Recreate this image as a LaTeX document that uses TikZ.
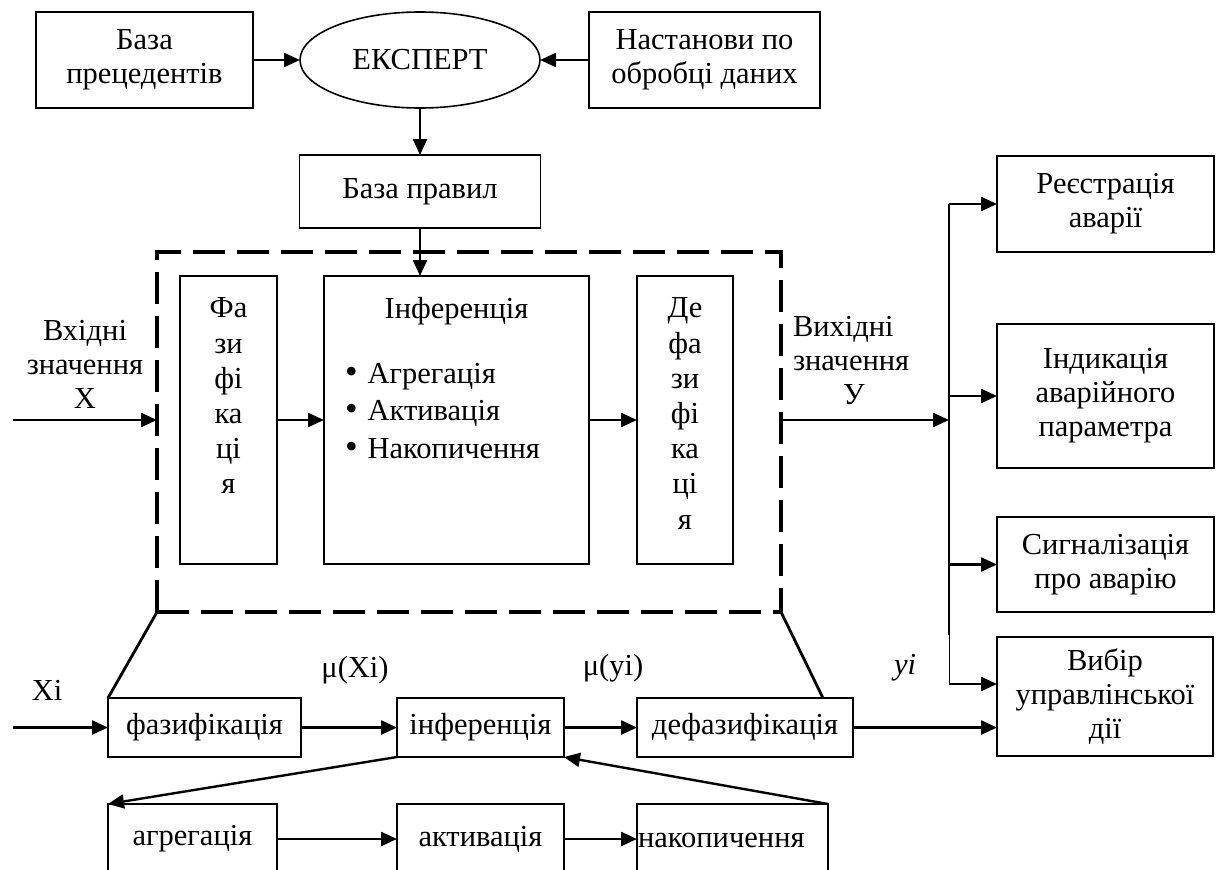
\documentclass[tikz,border=0pt]{standalone}
\usepackage{fontspec}
\setmainfont{Liberation Serif}
\usetikzlibrary{arrows.meta,shapes.geometric}
\begin{document}
\begin{tikzpicture}[x=1pt,y=-1pt,
  every node/.style={font=\fontsize{30.5}{34}\selectfont, inner sep=0pt, outer sep=0pt},
  box/.style={draw, line width=1.6pt, align=center},
  txt/.style={align=center},
  arr/.style={line width=2.4pt, -{Triangle[length=16pt,width=14pt]}},
  ln/.style={line width=2.8pt},
  dbox/.style={draw, line width=3.4pt, dash pattern=on 32pt off 12pt}
]
\useasboundingbox (0,0) rectangle (1221,870);
\clip (0,0) rectangle (1221,870);
% top row
\node[box, minimum width=217pt, minimum height=96pt] (bp) at (144.5,60) {База\\прецедентів};
\node[box, ellipse, minimum width=240pt, minimum height=96pt] (exp) at (420,60) {ЕКСПЕРТ};
\node[box, minimum width=231pt, minimum height=96pt] (nast) at (704.5,60) {Настанови по\\обробці даних};
\node[box, minimum width=241pt, minimum height=73pt] (bpr) at (420,191.5) {База правил};
% dashed frame
\node[dbox, minimum width=624pt, minimum height=360pt] (frame) at (469,432) {};
% inner boxes
\node[box, minimum width=97pt, minimum height=288pt] (faz) at (228.5,420) {};
\node[txt, anchor=north, font=\fontsize{30.5}{35.2}\selectfont] (fazt) at (228.5,298) {Фа\\зи\\фі\\ка\\ці\\я};
\node[box, minimum width=265pt, minimum height=288pt] (infb) at (456.5,420) {};
\node[txt, anchor=north] (inft) at (456.5,297) {Інференція};
\node[align=left, anchor=north west, font=\fontsize{30.5}{37.5}\selectfont] (infl) at (345,363) {{\fontsize{36}{37.5}\selectfont•}\hspace{10pt}Агрегація\\{\fontsize{36}{37.5}\selectfont•}\hspace{10pt}Активація\\{\fontsize{36}{37.5}\selectfont•}\hspace{10pt}Накопичення};
\node[box, minimum width=96pt, minimum height=288pt] (def) at (685,420) {};
\node[txt, anchor=north, font=\fontsize{30.5}{35.2}\selectfont] (deft) at (685,298) {Де\\фа\\зи\\фі\\ка\\ці\\я};
% labels
\node[txt] (inlab) at (85,364) {Вхідні\\значення\\X};
\node[align=left, anchor=west] (outlab) at (793,361) {Вихідні\\значення\\\hspace{50pt}У};
% right column
\node[box, minimum width=217pt, minimum height=96pt] (reg) at (1105.5,204) {Реєстрація\\аварії};
\node[box, minimum width=217pt, minimum height=144pt] (ind) at (1105.5,396) {Індикація\\аварійного\\параметра};
\node[box, minimum width=217pt, minimum height=95pt] (sig) at (1105.5,564.5) {Сигналізація\\про аварію};
\node[box, minimum width=216pt, minimum height=119pt] (vyb) at (1105,696.5) {Вибір\\управлінської\\дії};
% bottom rows
\node[box, minimum width=193pt, minimum height=59pt] (fz) at (204.5,727.5) {фазифікація};
\node[box, minimum width=167pt, minimum height=59pt] (inf) at (480.5,727.5) {інференція};
\node[box, minimum width=216pt, minimum height=59pt] (dfz) at (745,727.5) {дефазифікація};
\node[box, minimum width=169pt, minimum height=70pt] (agr) at (192.5,839) {агрегація};
\node[box, minimum width=167pt, minimum height=70pt] (akt) at (480.5,839) {активація};
\node[box, minimum width=191pt, minimum height=70pt] (nak) at (732.5,839) {};
\node[anchor=west] (nakt) at (638,840) {накопичення};
\node (xi) at (47,690) {Xi};
\node (mx) at (355,670) {μ(Xi)};
\node (my) at (613,668) {μ(yi)};
\node[font=\fontsize{30.5}{34}\selectfont\itshape] (yi) at (905,668) {yi};
% coordinates
\coordinate (in1) at (13,420);
\coordinate (bus) at (949,420);
\coordinate (btop) at (949,204);
\coordinate (bmid) at (949,635);
\coordinate (bbot) at (949,684);
\coordinate (b2) at (949,396);
\coordinate (b3) at (949,564.5);
\coordinate (xin) at (13,727.5);
\coordinate (dc) at (823,698);
% connectors top
\draw[arr] (bp.east) -- (exp.west);
\draw[arr] (nast.west) -- (exp.east);
\draw[arr] (exp.south) -- (exp.south |- bpr.north);
\draw[arr] (bpr.south) -- (bpr.south |- infb.north);
% inner flow
\draw[arr] (in1) -- (in1 -| frame.west);
\draw[arr] (faz.east) -- (infb.west);
\draw[arr] (infb.east) -- (def.west);
\draw[arr] (frame.east |- bus) -- (bus);
% bus
\draw[line width=2.4pt] (btop) -- (bmid);
\draw[line width=0.8pt] (bmid) -- (bbot);
\draw[arr] (btop) -- (reg.west);
\draw[arr] (b2) -- (ind.west);
\draw[arr] (b3) -- (sig.west);
\draw[arr] (bbot) -- (bbot -| vyb.west);
% bottom flow
\draw[arr] (xin) -- (fz.west);
\draw[arr] (fz.east) -- (inf.west);
\draw[arr] (inf.east) -- (dfz.west);
\draw[arr] (dfz.east) -- (dfz.east -| vyb.west);
\draw[arr] (agr.east) -- (akt.west);
\draw[arr] (akt.east) -- (nak.west);
\draw[arr] (inf.south west) -- (agr.north west);
\draw[arr] (nak.north east) -- (inf.south east);
% frame to detail
\draw[ln] (frame.south west) -- (fz.north west);
\draw[ln] (frame.south east) -- (dc);
\end{tikzpicture}
\end{document}
